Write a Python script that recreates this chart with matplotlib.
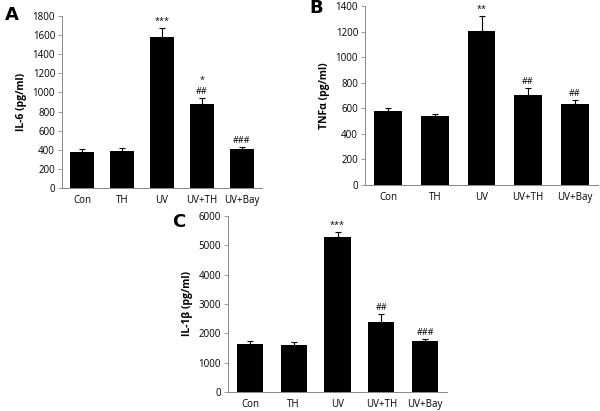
import numpy as np
import matplotlib
matplotlib.use('Agg')
from matplotlib import pyplot as plt

groups = ['Con', 'TH', 'UV', 'UV+TH', 'UV+Bay']

il6 = [380, 390, 1580, 880, 405]
il6_err = [30, 30, 90, 60, 25]
il6_marks = ['', '', '***', '*\n##', '###']

tnf = [575, 540, 1205, 700, 635]
tnf_err = [25, 15, 120, 60, 30]
tnf_marks = ['', '', '**', '##', '##']

il1b = [1630, 1600, 5270, 2390, 1740]
il1b_err = [100, 120, 200, 260, 80]
il1b_marks = ['', '', '***', '##', '###']

plt.rcParams['font.family'] = ['Open Sans', 'DejaVu Sans']

W, H = 600, 411
fig = plt.figure(figsize=(6.0, 4.11), dpi=100)

def panel(rect, vals, errs, marks, ymax, ystep, ylabel, letter, lpos):
    x0, y0, x1, y1 = rect
    ax = fig.add_axes([x0/W, 1-y1/H, (x1-x0)/W, (y1-y0)/H])
    x = np.arange(len(groups))
    ax.bar(x, vals, width=0.6, color='black', zorder=2)
    ax.errorbar(x, vals, yerr=[np.zeros(len(vals)), errs], fmt='none',
                ecolor='black', elinewidth=0.8, capsize=2.5, capthick=0.8)
    for xi, v, e, m in zip(x, vals, errs, marks):
        if m:
            ax.text(xi, v+e+ymax*0.012, m, ha='center', va='bottom',
                    fontsize=6.5, linespacing=1.3)
    ax.set_xlim(-0.5, len(groups)-0.5)
    ax.set_ylim(0, ymax)
    ax.set_yticks(np.arange(0, ymax+1, ystep))
    ax.set_xticks(x)
    ax.set_xticklabels(groups)
    ax.tick_params(axis='x', length=0, labelsize=7, pad=5)
    ax.tick_params(axis='y', length=3, width=0.6, labelsize=7, pad=2,
                   color='#888888')
    for s in ['top', 'right']:
        ax.spines[s].set_visible(False)
    for s in ['left', 'bottom']:
        ax.spines[s].set_color('#888888')
        ax.spines[s].set_linewidth(0.7)
    ax.set_ylabel(ylabel, fontsize=7.5, fontweight='bold', labelpad=4)
    fig.text(lpos[0]/W, 1-lpos[1]/H, letter, fontsize=13, fontweight='bold',
             ha='left', va='center', family=['DejaVu Sans'])
    return ax

panel((62, 16, 262, 188), il6, il6_err, il6_marks, 1800, 200,
      'IL-6 (pg/ml)', 'A', (5, 15))
panel((365, 6, 598, 185), tnf, tnf_err, tnf_marks, 1400, 200,
      'TNFα (pg/ml)', 'B', (309, 8))
panel((228, 216, 447, 392), il1b, il1b_err, il1b_marks, 6000, 1000,
      'IL-1β (pg/ml)', 'C', (172, 222))

fig.savefig('out.png', dpi=100)
